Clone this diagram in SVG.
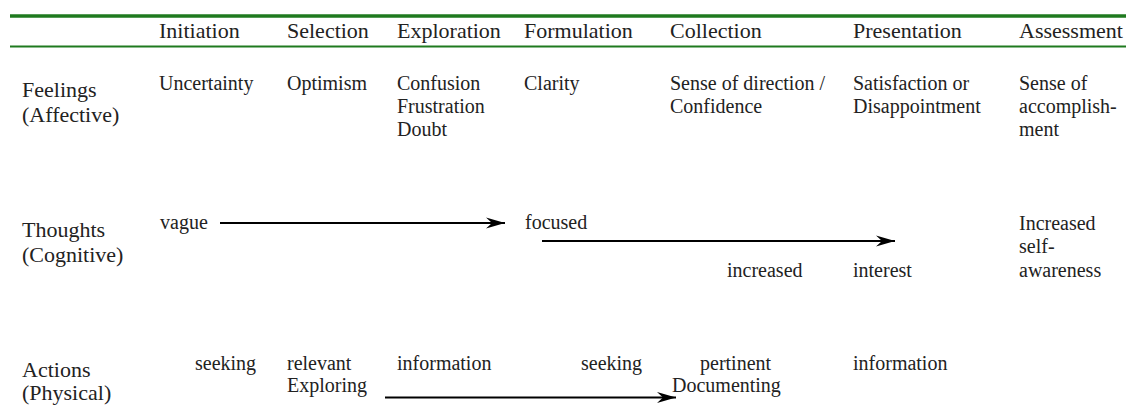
<svg xmlns="http://www.w3.org/2000/svg" width="1126" height="405" viewBox="0 0 1126 405" font-family="'Liberation Serif', 'DejaVu Serif', serif">
<style>
text{font-family:'Liberation Serif','DejaVu Serif',serif;fill:#222;}
.h{font-size:22px;}
.r{font-size:22px;}
.c{font-size:20px;}
.rule{stroke:#1f7a1f;}
.conn{stroke:#000;stroke-width:2;fill:none;marker-end:url(#ah);}
</style>
<defs>
<marker id="ah" markerUnits="userSpaceOnUse" markerWidth="22" markerHeight="12" refX="20" refY="6" orient="auto" viewBox="0 0 22 12">
<path d="M20,6 L1,0.6 L7,6 L1,11.4 Z" fill="#000"/>
</marker>
</defs>
<rect width="1126" height="405" fill="#fff"/>
<g id="rules">
<line class="rule" x1="10" y1="16" x2="1126" y2="16" stroke-width="3.5"/>
<line class="rule" x1="10" y1="46.5" x2="1126" y2="46.5" stroke-width="2"/>
</g>
<g id="headers">
<text class="h" x="159" y="38">Initiation</text>
<text class="h" x="287" y="38">Selection</text>
<text class="h" x="397" y="38">Exploration</text>
<text class="h" x="524" y="38">Formulation</text>
<text class="h" x="670" y="38">Collection</text>
<text class="h" x="853" y="38">Presentation</text>
<text class="h" x="1019" y="38">Assessment</text>
</g>
<g id="row-feelings">
<text class="r" x="22" y="97">Feelings</text>
<text class="r" x="22" y="122">(Affective)</text>
<text class="c" x="159" y="90">Uncertainty</text>
<text class="c" x="287" y="90">Optimism</text>
<text class="c" x="397" y="90">Confusion</text>
<text class="c" x="397" y="113">Frustration</text>
<text class="c" x="397" y="136">Doubt</text>
<text class="c" x="524" y="90">Clarity</text>
<text class="c" x="670" y="90">Sense of direction /</text>
<text class="c" x="670" y="113">Confidence</text>
<text class="c" x="853" y="90">Satisfaction or</text>
<text class="c" x="853" y="113">Disappointment</text>
<text class="c" x="1019" y="90">Sense of</text>
<text class="c" x="1019" y="113">accomplish-</text>
<text class="c" x="1019" y="136">ment</text>
</g>
<g id="row-thoughts">
<text class="r" x="22" y="237">Thoughts</text>
<text class="r" x="22" y="262">(Cognitive)</text>
<text class="c" x="160" y="229">vague</text>
<text class="c" x="525" y="229">focused</text>
<text class="c" x="727" y="277">increased</text>
<text class="c" x="853" y="277">interest</text>
<text class="c" x="1019" y="230">Increased</text>
<text class="c" x="1019" y="253">self-</text>
<text class="c" x="1019" y="277">awareness</text>
</g>
<g id="row-actions">
<text class="r" x="22" y="377">Actions</text>
<text class="r" x="22" y="400">(Physical)</text>
<text class="c" x="195" y="370">seeking</text>
<text class="c" x="287" y="370">relevant</text>
<text class="c" x="287" y="392">Exploring</text>
<text class="c" x="397" y="370">information</text>
<text class="c" x="581" y="370">seeking</text>
<text class="c" x="700" y="370">pertinent</text>
<text class="c" x="672" y="392">Documenting</text>
<text class="c" x="853" y="370">information</text>
</g>
<g id="connectors">
<line class="conn" x1="220" y1="223" x2="505" y2="223"/>
<line class="conn" x1="542" y1="241" x2="895" y2="241"/>
<line class="conn" x1="385" y1="397.5" x2="676" y2="397.5"/>
</g>
</svg>
